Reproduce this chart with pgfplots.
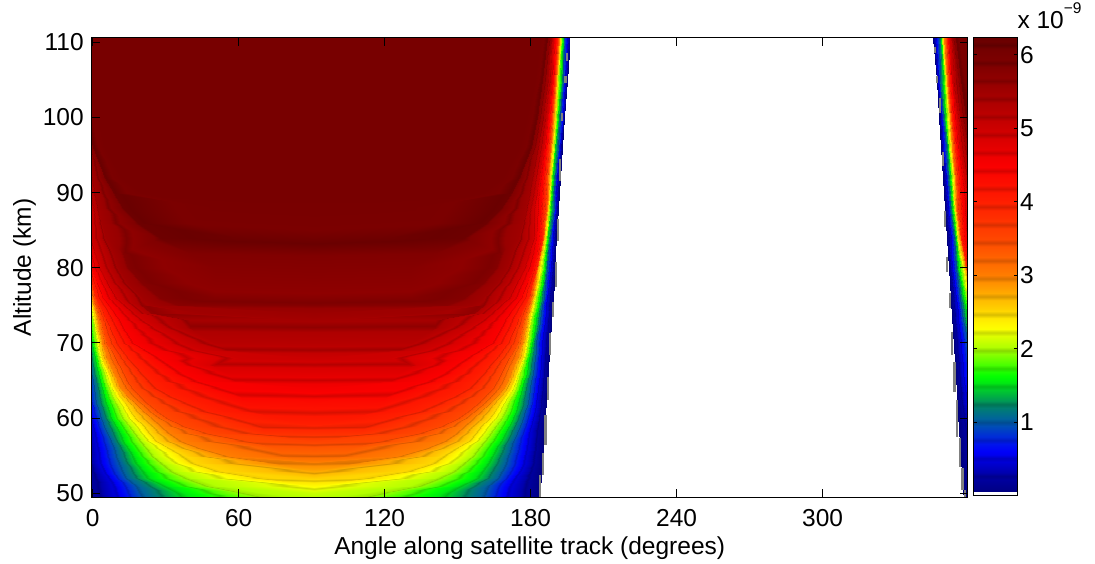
\documentclass[border=0pt]{standalone}
\usepackage{pgfplots}
\usepackage{pgfplotstable}
\usepackage{fontspec}
\setmainfont{Liberation Sans}
\pgfplotsset{compat=1.18}
\pgfplotsset{colormap={nlc}{
rgb255=(0,0,106) rgb255=(0,0,133) rgb255=(0,0,141) rgb255=(0,0,149) rgb255=(0,0,157)
rgb255=(0,0,140) rgb255=(0,0,173) rgb255=(0,0,187) rgb255=(0,0,200) rgb255=(0,0,213)
rgb255=(0,0,192) rgb255=(0,0,239) rgb255=(0,1,249) rgb255=(0,11,243) rgb255=(0,21,236)
rgb255=(0,26,195) rgb255=(0,43,217) rgb255=(0,54,206) rgb255=(0,66,194) rgb255=(0,78,182)
rgb255=(0,76,145) rgb255=(0,99,156) rgb255=(0,108,142) rgb255=(0,117,128) rgb255=(0,126,113)
rgb255=(0,116,84) rgb255=(0,153,85) rgb255=(0,169,72) rgb255=(0,186,58) rgb255=(0,202,45)
rgb255=(0,186,26) rgb255=(0,232,19) rgb255=(0,246,8) rgb255=(6,255,0) rgb255=(28,255,0)
rgb255=(43,217,0) rgb255=(72,255,0) rgb255=(94,255,0) rgb255=(115,255,0) rgb255=(137,255,0)
rgb255=(135,217,0) rgb255=(178,255,0) rgb255=(192,255,0) rgb255=(207,255,0) rgb255=(222,255,0)
rgb255=(201,217,0) rgb255=(252,255,0) rgb255=(255,248,0) rgb255=(255,240,0) rgb255=(255,231,0)
rgb255=(217,189,0) rgb255=(255,214,0) rgb255=(255,205,0) rgb255=(255,196,0) rgb255=(255,188,0)
rgb255=(217,152,0) rgb255=(255,170,0) rgb255=(255,161,0) rgb255=(255,152,0) rgb255=(255,143,0)
rgb255=(217,114,0) rgb255=(255,125,0) rgb255=(255,119,0) rgb255=(255,114,0) rgb255=(255,108,0)
rgb255=(217,88,0) rgb255=(255,98,0) rgb255=(255,92,0) rgb255=(255,87,0) rgb255=(255,82,0)
rgb255=(217,65,0) rgb255=(255,71,0) rgb255=(255,67,0) rgb255=(255,63,0) rgb255=(255,59,0)
rgb255=(217,47,0) rgb255=(255,51,0) rgb255=(255,47,0) rgb255=(255,43,0) rgb255=(255,39,0)
rgb255=(217,30,0) rgb255=(255,32,0) rgb255=(255,28,0) rgb255=(254,25,0) rgb255=(254,22,0)
rgb255=(216,16,0) rgb255=(253,16,0) rgb255=(252,13,0) rgb255=(252,10,0) rgb255=(251,7,0)
rgb255=(213,3,0) rgb255=(250,1,0) rgb255=(248,0,0) rgb255=(244,0,0) rgb255=(239,0,0)
rgb255=(200,0,0) rgb255=(231,0,0) rgb255=(226,0,0) rgb255=(222,0,0) rgb255=(217,0,0)
rgb255=(181,0,0) rgb255=(209,0,0) rgb255=(204,0,0) rgb255=(200,0,0) rgb255=(195,0,0)
rgb255=(162,0,0) rgb255=(187,0,0) rgb255=(182,0,0) rgb255=(178,0,0) rgb255=(174,0,0)
rgb255=(144,0,0) rgb255=(165,0,0) rgb255=(160,0,0) rgb255=(156,0,0) rgb255=(151,0,0)
rgb255=(125,0,0) rgb255=(142,0,0) rgb255=(138,0,0) rgb255=(133,0,0) rgb255=(129,0,0)
rgb255=(106,0,0) rgb255=(123,0,0) rgb255=(121,0,0) rgb255=(118,0,0) rgb255=(115,0,0)
rgb255=(94,0,0) rgb255=(108,0,0) rgb255=(105,0,0)
}}
% half-width d from the lobe centre at each altitude y, for each value c
\pgfplotstableread[row sep=\\]{
d y c \\
92.9 49.5 .05 \\ 79.5 49.5 .5 \\ 69.5 49.5 1 \\ 53 49.5 1.5 \\ 20 49.5 2 \\ 0 49.5 2.05 \\ 0 49.5 2.05 \\ 0 49.5 2.05 \\ 0 49.5 2.05 \\ 0 49.5 2.05 \\ 0 49.5 2.05 \\ 0 49.5 2.05 \\ 0 49.5 2.05 \\ 0 49.5 2.05 \\ 0 49.5 2.05 \\
93 50 .05 \\ 80 50 .5 \\ 70.4 50 1 \\ 54.7 50 1.5 \\ 27.3 50 2 \\ 0 50 2.1 \\ 0 50 2.1 \\ 0 50 2.1 \\ 0 50 2.1 \\ 0 50 2.1 \\ 0 50 2.1 \\ 0 50 2.1 \\ 0 50 2.1 \\ 0 50 2.1 \\ 0 50 2.1 \\
93.2 51 .05 \\ 80.7 51 .5 \\ 71.8 51 1 \\ 60.2 51 1.5 \\ 42.4 51 2 \\ 0 51 2.3 \\ 0 51 2.3 \\ 0 51 2.3 \\ 0 51 2.3 \\ 0 51 2.3 \\ 0 51 2.3 \\ 0 51 2.3 \\ 0 51 2.3 \\ 0 51 2.3 \\ 0 51 2.3 \\
93.4 52 .05 \\ 82.8 52 .5 \\ 75.9 52 1 \\ 67 52 1.5 \\ 51.3 52 2 \\ 20.4 52 2.5 \\ 0 52 2.55 \\ 0 52 2.55 \\ 0 52 2.55 \\ 0 52 2.55 \\ 0 52 2.55 \\ 0 52 2.55 \\ 0 52 2.55 \\ 0 52 2.55 \\ 0 52 2.55 \\
93.6 53 .05 \\ 84.8 53 .5 \\ 77.5 53 1 \\ 69.1 53 1.5 \\ 57.2 53 2 \\ 38.3 53 2.5 \\ 0 53 2.78 \\ 0 53 2.78 \\ 0 53 2.78 \\ 0 53 2.78 \\ 0 53 2.78 \\ 0 53 2.78 \\ 0 53 2.78 \\ 0 53 2.78 \\ 0 53 2.78 \\
93.8 54 .05 \\ 86.4 54 .5 \\ 79 54 1 \\ 71.8 54 1.5 \\ 61.5 54 2 \\ 48.5 54 2.5 \\ 16 54 2.95 \\ 0 54 2.97 \\ 0 54 2.97 \\ 0 54 2.97 \\ 0 54 2.97 \\ 0 54 2.97 \\ 0 54 2.97 \\ 0 54 2.97 \\ 0 54 2.97 \\
94 55 .05 \\ 87 55 .5 \\ 80 55 1 \\ 73.2 55 1.5 \\ 65 55 2 \\ 52.6 55 2.5 \\ 34.1 55 3 \\ 12 55 3.19 \\ 0 55 3.2 \\ 0 55 3.2 \\ 0 55 3.2 \\ 0 55 3.2 \\ 0 55 3.2 \\ 0 55 3.2 \\ 0 55 3.2 \\
94.2 56 .05 \\ 87.5 56 .5 \\ 81 56 1 \\ 75 56 1.5 \\ 67.5 56 2 \\ 58.1 56 2.5 \\ 45.8 56 3 \\ 15 56 3.33 \\ 0 56 3.35 \\ 0 56 3.35 \\ 0 56 3.35 \\ 0 56 3.35 \\ 0 56 3.35 \\ 0 56 3.35 \\ 0 56 3.35 \\
94.4 57 .05 \\ 88 57 .5 \\ 82 57 1 \\ 77 57 1.5 \\ 70 57 2 \\ 63.6 57 2.5 \\ 53.3 57 3 \\ 25.9 57 3.5 \\ 0 57 3.55 \\ 0 57 3.55 \\ 0 57 3.55 \\ 0 57 3.55 \\ 0 57 3.55 \\ 0 57 3.55 \\ 0 57 3.55 \\
94.6 58 .05 \\ 88.7 58 .5 \\ 83.5 58 1 \\ 78.5 58 1.5 \\ 72.5 58 2 \\ 66.3 58 2.5 \\ 58.1 58 3 \\ 42.4 58 3.5 \\ 20 58 3.78 \\ 0 58 3.8 \\ 0 58 3.8 \\ 0 58 3.8 \\ 0 58 3.8 \\ 0 58 3.8 \\ 0 58 3.8 \\
94.8 59 .05 \\ 89.3 59 .5 \\ 85 59 1 \\ 80.2 59 1.5 \\ 74.5 59 2 \\ 68.4 59 2.5 \\ 61.5 59 3 \\ 51.9 59 3.5 \\ 21 59 3.95 \\ 0 59 3.97 \\ 0 59 3.97 \\ 0 59 3.97 \\ 0 59 3.97 \\ 0 59 3.97 \\ 0 59 3.97 \\
95 60 .05 \\ 90 60 .5 \\ 86 60 1 \\ 82 60 1.5 \\ 77 60 2 \\ 72 60 2.5 \\ 65 60 3 \\ 58.8 60 3.5 \\ 30 60 4 \\ 15 60 4.09 \\ 0 60 4.1 \\ 0 60 4.1 \\ 0 60 4.1 \\ 0 60 4.1 \\ 0 60 4.1 \\
95.2 61 .05 \\ 90.8 61 .5 \\ 87 61 1 \\ 83 61 1.5 \\ 78.5 61 2 \\ 74 61 2.5 \\ 68.5 61 3 \\ 63 61 3.5 \\ 42 61 4 \\ 25 61 4.18 \\ 0 61 4.2 \\ 0 61 4.2 \\ 0 61 4.2 \\ 0 61 4.2 \\ 0 61 4.2 \\
95.4 62 .05 \\ 91.5 62 .5 \\ 88 62 1 \\ 84 62 1.5 \\ 80 62 2 \\ 76 62 2.5 \\ 72 62 3 \\ 67 62 3.5 \\ 50 62 4 \\ 28 62 4.28 \\ 0 62 4.3 \\ 0 62 4.3 \\ 0 62 4.3 \\ 0 62 4.3 \\ 0 62 4.3 \\
95.6 63 .05 \\ 92 63 .5 \\ 88.5 63 1 \\ 84.8 63 1.5 \\ 81.5 63 2 \\ 78.3 63 2.5 \\ 75 63 3 \\ 70 63 3.5 \\ 57 63 4 \\ 30 63 4.4 \\ 0 63 4.42 \\ 0 63 4.42 \\ 0 63 4.42 \\ 0 63 4.42 \\ 0 63 4.42 \\
95.8 64 .05 \\ 92.4 64 .5 \\ 89 64 1 \\ 85.5 64 1.5 \\ 83 64 2 \\ 80.5 64 2.5 \\ 78 64 3 \\ 73.2 64 3.5 \\ 62.9 64 4 \\ 35 64 4.5 \\ 0 64 4.56 \\ 0 64 4.56 \\ 0 64 4.56 \\ 0 64 4.56 \\ 0 64 4.56 \\
96 65 .05 \\ 92.7 65 .5 \\ 89.5 65 1 \\ 86.5 65 1.5 \\ 84 65 2 \\ 81.8 65 2.5 \\ 79.3 65 3 \\ 75 65 3.5 \\ 66 65 4 \\ 45 65 4.5 \\ 32 65 4.64 \\ 0 65 4.65 \\ 0 65 4.65 \\ 0 65 4.65 \\ 0 65 4.65 \\
96.2 66 .05 \\ 93 66 .5 \\ 90 66 1 \\ 87.5 66 1.5 \\ 85 66 2 \\ 83 66 2.5 \\ 80.7 66 3 \\ 76.6 66 3.5 \\ 69 66 4 \\ 51.9 66 4.5 \\ 35 66 4.77 \\ 0 66 4.78 \\ 0 66 4.78 \\ 0 66 4.78 \\ 0 66 4.78 \\
96.4 67 .05 \\ 93.3 67 .5 \\ 90.4 67 1 \\ 88 67 1.5 \\ 86 67 2 \\ 84.3 67 2.5 \\ 82.1 67 3 \\ 78.3 67 3.5 \\ 71.8 67 4 \\ 57 67 4.5 \\ 41 67 4.89 \\ 0 67 4.9 \\ 0 67 4.9 \\ 0 67 4.9 \\ 0 67 4.9 \\
96.6 68 .05 \\ 93.5 68 .5 \\ 90.8 68 1 \\ 88.5 68 1.5 \\ 87 68 2 \\ 85.5 68 2.5 \\ 83.5 68 3 \\ 80 68 3.5 \\ 74.6 68 4 \\ 61.5 68 4.5 \\ 30 68 5 \\ 0 68 5.02 \\ 0 68 5.02 \\ 0 68 5.02 \\ 0 68 5.02 \\
96.8 69 .05 \\ 93.8 69 .5 \\ 91.2 69 1 \\ 89.2 69 1.5 \\ 87.7 69 2 \\ 86.3 69 2.5 \\ 84.5 69 3 \\ 81.8 69 3.5 \\ 77 69 4 \\ 67 69 4.5 \\ 45 69 5 \\ 35 69 5.14 \\ 0 69 5.15 \\ 0 69 5.15 \\ 0 69 5.15 \\
97 70 .05 \\ 94 70 .5 \\ 91.5 70 1 \\ 89.9 70 1.5 \\ 88.3 70 2 \\ 87 70 2.5 \\ 85.5 70 3 \\ 83.5 70 3.5 \\ 79.4 70 4 \\ 72.5 70 4.5 \\ 51.9 70 5 \\ 40 70 5.24 \\ 0 70 5.25 \\ 0 70 5.25 \\ 0 70 5.25 \\
97.2 71 .05 \\ 94.3 71 .5 \\ 92 71 1 \\ 90.4 71 1.5 \\ 88.7 71 2 \\ 87.5 71 2.5 \\ 86 71 3 \\ 84.4 71 3.5 \\ 80.8 71 4 \\ 74.5 71 4.5 \\ 57.5 71 5 \\ 45 71 5.31 \\ 0 71 5.32 \\ 0 71 5.32 \\ 0 71 5.32 \\
97.4 72 .05 \\ 94.7 72 .5 \\ 92.5 72 1 \\ 90.9 72 1.5 \\ 89.1 72 2 \\ 88 72 2.5 \\ 86.7 72 3 \\ 85.3 72 3.5 \\ 82.2 72 4 \\ 76.3 72 4.5 \\ 63 72 5 \\ 50 72 5.38 \\ 0 72 5.39 \\ 0 72 5.39 \\ 0 72 5.39 \\
97.6 73 .05 \\ 95 73 .5 \\ 93 73 1 \\ 91.4 73 1.5 \\ 89.5 73 2 \\ 88.5 73 2.5 \\ 87.3 73 3 \\ 86.2 73 3.5 \\ 83.5 73 4 \\ 78 73 4.5 \\ 68.4 73 5 \\ 50 73 5.45 \\ 0 73 5.46 \\ 0 73 5.46 \\ 0 73 5.46 \\
97.8 74 .05 \\ 95.3 74 .5 \\ 93.5 74 1 \\ 91.9 74 1.5 \\ 90 74 2 \\ 89 74 2.5 \\ 88 74 3 \\ 87 74 3.5 \\ 84.7 74 4 \\ 80 74 4.5 \\ 72 74 5 \\ 66 74 5.39 \\ 45 74 5.5 \\ 0 74 5.54 \\ 0 74 5.54 \\
98 75 .05 \\ 95.7 75 .5 \\ 94 75 1 \\ 92.5 75 1.5 \\ 90.8 75 2 \\ 89.8 75 2.5 \\ 88.8 75 3 \\ 88 75 3.5 \\ 86.5 75 4 \\ 82.5 75 4.5 \\ 75.7 75 5 \\ 70 75 5.39 \\ 65 75 5.5 \\ 55 75 5.62 \\ 0 75 5.63 \\
98.2 76 .05 \\ 96 76 .5 \\ 94.5 76 1 \\ 93 76 1.5 \\ 91.5 76 2 \\ 90.5 76 2.5 \\ 89.6 76 3 \\ 89 76 3.5 \\ 88.2 76 4 \\ 84.8 76 4.5 \\ 79.4 76 5 \\ 69 76 5.5 \\ 62 76 5.63 \\ 40 76 5.66 \\ 0 76 5.67 \\
98.6 78 .05 \\ 96.8 78 .5 \\ 95.2 78 1 \\ 94.1 78 1.5 \\ 92.6 78 2 \\ 91.6 78 2.5 \\ 90.8 78 3 \\ 90.3 78 3.5 \\ 89.8 78 4 \\ 87.4 78 4.5 \\ 82.8 78 5 \\ 75 78 5.5 \\ 69.5 78 5.63 \\ 40 78 5.73 \\ 0 78 5.74 \\
99 80 .05 \\ 97.5 80 .5 \\ 96 80 1 \\ 95.2 80 1.5 \\ 93.7 80 2 \\ 92.7 80 2.5 \\ 92 80 3 \\ 91.7 80 3.5 \\ 91.4 80 4 \\ 89.9 80 4.5 \\ 86.2 80 5 \\ 79 80 5.5 \\ 75 80 5.63 \\ 40 80 5.78 \\ 0 80 5.79 \\
99.4 82 .05 \\ 97.9 82 .5 \\ 96.5 82 1 \\ 95.7 82 1.5 \\ 94.6 82 2 \\ 93.9 82 2.5 \\ 93.2 82 3 \\ 92.9 82 3.5 \\ 92.6 82 4 \\ 91.2 82 4.5 \\ 88.3 82 5 \\ 81 82 5.5 \\ 77 82 5.63 \\ 50 82 5.84 \\ 0 82 5.85 \\
99.8 84 .05 \\ 98.2 84 .5 \\ 97 84 1 \\ 96.2 84 1.5 \\ 95.4 84 2 \\ 95 84 2.5 \\ 94.4 84 3 \\ 94.1 84 3.5 \\ 93.8 84 4 \\ 92.4 84 4.5 \\ 90.3 84 5 \\ 84 84 5.5 \\ 62 84 5.88 \\ 30 84 5.9 \\ 0 84 5.91 \\
100.2 86 .05 \\ 98.9 86 .5 \\ 97.8 86 1 \\ 96.9 86 1.5 \\ 96.2 86 2 \\ 95.7 86 2.5 \\ 95.2 86 3 \\ 94.8 86 3.5 \\ 94 86 4 \\ 92.7 86 4.5 \\ 90.2 86 5 \\ 85.5 86 5.5 \\ 71 86 5.88 \\ 50 86 5.94 \\ 0 86 5.96 \\
100.6 88 .05 \\ 99.5 88 .5 \\ 98.6 88 1 \\ 97.6 88 1.5 \\ 96.9 88 2 \\ 96.3 88 2.5 \\ 96 88 3 \\ 95.5 88 3.5 \\ 94.3 88 4 \\ 93 88 4.5 \\ 90.2 88 5 \\ 87 88 5.5 \\ 77 88 5.88 \\ 40 88 5.98 \\ 0 88 5.99 \\
101 90 .05 \\ 99.8 90 .5 \\ 98.9 90 1 \\ 98 90 1.5 \\ 97.3 90 2 \\ 96.7 90 2.5 \\ 96.2 90 3 \\ 95.8 90 3.5 \\ 94.7 90 4 \\ 93.5 90 4.5 \\ 91.2 90 5 \\ 88 90 5.5 \\ 81 90 5.88 \\ 70 90 6 \\ 0 90 6 \\
101.4 92 .05 \\ 100 92 .5 \\ 99.2 92 1 \\ 98.3 92 1.5 \\ 97.6 92 2 \\ 97 92 2.5 \\ 96.5 92 3 \\ 96 92 3.5 \\ 95.1 92 4 \\ 94 92 4.5 \\ 92.2 92 5 \\ 89.5 92 5.5 \\ 84.5 92 5.88 \\ 78 92 6 \\ 0 92 6 \\
102.2 96 .05 \\ 101.2 96 .5 \\ 100.3 96 1 \\ 99.4 96 1.5 \\ 98.7 96 2 \\ 98.1 96 2.5 \\ 97.6 96 3 \\ 97 96 3.5 \\ 96.5 96 4 \\ 95.5 96 4.5 \\ 94.4 96 5 \\ 91.7 96 5.5 \\ 89.5 96 5.88 \\ 84.8 96 6 \\ 0 96 6 \\
103 100 .05 \\ 102.3 100 .5 \\ 101.3 100 1 \\ 100.5 100 1.5 \\ 99.6 100 2 \\ 99 100 2.5 \\ 98.5 100 3 \\ 98.1 100 3.5 \\ 97.6 100 4 \\ 96.7 100 4.5 \\ 95.8 100 5 \\ 93.8 100 5.5 \\ 92 100 5.88 \\ 87.6 100 6 \\ 0 100 6 \\
104 105 .05 \\ 103.3 105 .5 \\ 102.4 105 1 \\ 101.5 105 1.5 \\ 100.6 105 2 \\ 100 105 2.5 \\ 99.6 105 3 \\ 99.2 105 3.5 \\ 98.8 105 4 \\ 98.2 105 4.5 \\ 97.5 105 5 \\ 95.8 105 5.5 \\ 94 105 5.88 \\ 91 105 6 \\ 0 105 6 \\
105.3 110.6 .05 \\ 104.3 110.6 .5 \\ 103 110.6 1 \\ 102.3 110.6 1.5 \\ 101.8 110.6 2 \\ 101.3 110.6 2.5 \\ 100.8 110.6 3 \\ 100.3 110.6 3.5 \\ 99.9 110.6 4 \\ 99.4 110.6 4.5 \\ 98.5 110.6 5 \\ 97.5 110.6 5.5 \\ 96 110.6 5.88 \\ 93 110.6 6 \\ 0 110.6 6 \\
}\field
\pgfplotstableread[row sep=\\]{
x y c \\
0 0.05 0.05 \\ 1 0.05 0.05 \\
0 6.23 6.23 \\ 1 6.23 6.23 \\
}\cbar
\newcommand{\fs}{\fontsize{24.5}{28}\selectfont}
\begin{document}
\begin{tikzpicture}[x=1pt,y=1pt]
\path[use as bounding box] (0,0) rectangle (1095,564);
\begin{axis}[
  at={(91.7pt,66.7pt)}, anchor=south west,
  scale only axis, width=876pt, height=459.6pt,
  xmin=-0.4, xmax=359.6, ymin=49.47, ymax=110.6,
  xtick={0,60,120,180,240,300}, ytick={50,60,70,80,90,100,110},
  tick align=inside, major tick length=8pt, tick style={black,line width=0.9pt},
  axis line style={line width=1pt},
  axis on top,
  colormap name=nlc, point meta min=0.02, point meta max=6.23,
  tick label style={font=\fs,/pgf/number format/assume math mode=true},
  xticklabel style={anchor=base,yshift=-29.7pt},
  yticklabel style={anchor=east,xshift=-4.5pt},
  label style={font=\fs},
  xlabel={Angle along satellite track (degrees)},
  ylabel={Altitude (km)},
  xlabel style={at={(axis description cs:0.5,0)},anchor=base,yshift=-57.7pt},
  ylabel style={at={(axis description cs:0,0.5)},anchor=base,yshift=60.7pt},
]
\addplot[surf,shader=interp,mesh/rows=40,mesh/cols=15,point meta=explicit]
  table[x expr=90.8+\thisrow{d},y=y,meta=c]{\field};
\addplot[surf,shader=interp,mesh/rows=40,mesh/cols=15,point meta=explicit]
  table[x expr=90.8-1.015*\thisrow{d},y=y,meta=c]{\field};
\addplot[surf,shader=interp,mesh/rows=40,mesh/cols=15,point meta=explicit]
  table[x expr=450.8-\thisrow{d},y=y,meta=c]{\field};
\addplot[color={rgb,255:red,128;green,128;blue,128},line width=2.2pt,no markers,unbounded coords=jump] coordinates {
(183.85,52.4)(183.85,49.5) (nan,nan)
(185.1,55.4)(185.1,52.4) (nan,nan)
(186.1,60.4)(186.1,56.4) (nan,nan)
(187.1,65.5)(187.1,62.4) (nan,nan)
(187.9,71.3)(187.9,68.4) (nan,nan)
(189.2,75.5)(189.2,73.5) (nan,nan)
(190.4,80.7)(190.4,77.5) (nan,nan)
(191.2,86.5)(191.2,83.5) (nan,nan)
(192.1,94.5)(192.1,91.6) (nan,nan)
(192.9,100.6)(192.9,99.5) (nan,nan)
(194.3,105.5)(194.3,104.6) (nan,nan)
(195,108.6)(195,107.5) (nan,nan)
(346.2,109.4)(346.2,108.6) (nan,nan)
(347.1,105.5)(347.1,104.6) (nan,nan)
(348.3,102.6)(348.3,100.6) (nan,nan)
(349.3,95.4)(349.3,93.6) (nan,nan)
(350.3,87.6)(350.3,85.4) (nan,nan)
(351.2,81.4)(351.2,79.5) (nan,nan)
(352.4,76.6)(352.4,74.6) (nan,nan)
(353.2,71.5)(353.2,68.4) (nan,nan)
(354.2,67.5)(354.2,63.5) (nan,nan)
(355.3,62.4)(355.3,57.5) (nan,nan)
(356.5,57.4)(356.5,53.5) (nan,nan)
(357.5,53.4)(357.5,50.4) (nan,nan)
(358.5,50.4)(358.5,49.5)
};
\end{axis}
\begin{axis}[
  at={(973.3pt,68.7pt)}, anchor=south west,
  scale only axis, width=44.4pt, height=457.6pt,
  xmin=0, xmax=1, ymin=0.005, ymax=6.23,
  xtick=\empty, ytick={1,2,3,4,5,6},
  tick align=inside, major tick length=4pt, tick style={black,line width=0.9pt},
  axis line style={line width=1pt},
  axis on top, yticklabel pos=right,
  colormap name=nlc, point meta min=0.02, point meta max=6.23,
  tick label style={font=\fs,/pgf/number format/assume math mode=true},
  yticklabel style={xshift=-1pt},
]
\addplot[surf,shader=interp,mesh/rows=2,mesh/cols=2,point meta=explicit]
  table[x=x,y=y,meta=c]{\cbar};
\end{axis}
\node[anchor=base west,inner sep=0pt,font=\fs] at (1017.3,535.7) {x 10\raisebox{14.3pt}{\fontsize{15.5}{15.5}\selectfont −9}};
\end{tikzpicture}
\end{document}
